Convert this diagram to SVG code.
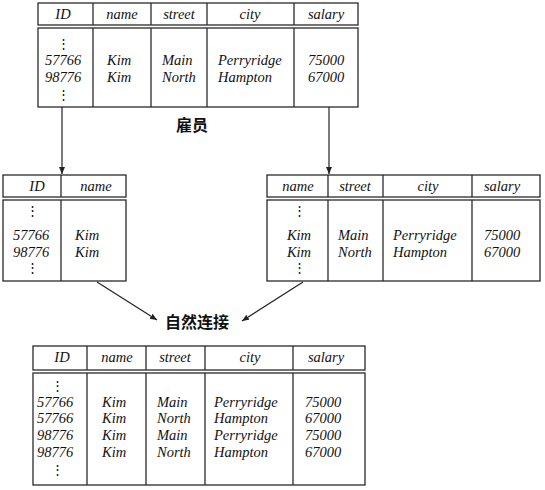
<svg xmlns="http://www.w3.org/2000/svg" width="545" height="490" viewBox="0 0 545 490">
<defs>
<marker id="ah" markerWidth="8" markerHeight="8" refX="7" refY="3" orient="auto" markerUnits="userSpaceOnUse">
<path d="M0,0 L7,3 L0,6 Z" fill="#222"/>
</marker>
<style>
.box{fill:#fff;stroke:#2a2a2a;stroke-width:1.3}
.div{stroke:#2a2a2a;stroke-width:1.3}
.t{font-family:"Liberation Serif",serif;font-style:italic;font-size:14.5px;fill:#111}
.h{font-family:"Liberation Serif",serif;font-style:italic;font-size:14.5px;fill:#111;text-anchor:middle}
.c{text-anchor:middle}
.dots{font-family:"DejaVu Serif",serif;font-size:13px;fill:#111;text-anchor:middle}
.lbl{font-family:"Noto Sans CJK SC","Noto Sans",sans-serif;font-weight:bold;font-size:16px;fill:#111;text-anchor:middle}
.con{stroke:#222;stroke-width:1.2;fill:none}
</style>
</defs>

<g id="employee">
<rect class="box" x="38" y="3" width="320" height="22"/>
<rect class="box" x="38" y="28" width="320" height="79"/>
<line class="div" x1="93" y1="3" x2="93" y2="25"/><line class="div" x1="93" y1="28" x2="93" y2="107"/>
<line class="div" x1="151" y1="3" x2="151" y2="25"/><line class="div" x1="151" y1="28" x2="151" y2="107"/>
<line class="div" x1="207" y1="3" x2="207" y2="25"/><line class="div" x1="207" y1="28" x2="207" y2="107"/>
<line class="div" x1="294" y1="3" x2="294" y2="25"/><line class="div" x1="294" y1="28" x2="294" y2="107"/>
<text class="h" x="63" y="19">ID</text>
<text class="h" x="122" y="19">name</text>
<text class="h" x="179" y="19">street</text>
<text class="h" x="250" y="19">city</text>
<text class="h" x="326" y="19">salary</text>
<text class="dots" x="63" y="48">⋮</text>
<text class="t" x="45" y="65">57766</text>
<text class="t" x="45" y="82">98776</text>
<text class="dots" x="63" y="99">⋮</text>
<text class="t" x="107" y="65">Kim</text>
<text class="t" x="107" y="82">Kim</text>
<text class="t" x="162" y="65">Main</text>
<text class="t" x="162" y="82">North</text>
<text class="t" x="218" y="65">Perryridge</text>
<text class="t" x="218" y="82">Hampton</text>
<text class="t" x="308" y="65">75000</text>
<text class="t" x="308" y="82">67000</text>
<text class="lbl" x="192" y="131">雇员</text>
</g>

<g id="proj_left">
<rect class="box" x="3" y="175" width="123" height="22"/>
<rect class="box" x="3" y="200" width="123" height="81"/>
<line class="div" x1="61" y1="175" x2="61" y2="197"/><line class="div" x1="61" y1="200" x2="61" y2="281"/>
<text class="h" x="37" y="191">ID</text>
<text class="h" x="96" y="191">name</text>
<text class="dots" x="32" y="215">⋮</text>
<text class="t" x="13" y="240">57766</text>
<text class="t" x="13" y="257">98776</text>
<text class="dots" x="32" y="272">⋮</text>
<text class="t" x="75" y="240">Kim</text>
<text class="t" x="75" y="257">Kim</text>
</g>

<g id="proj_right">
<rect class="box" x="267" y="175" width="273" height="22"/>
<rect class="box" x="267" y="200" width="273" height="81"/>
<line class="div" x1="328" y1="175" x2="328" y2="197"/><line class="div" x1="328" y1="200" x2="328" y2="281"/>
<line class="div" x1="383" y1="175" x2="383" y2="197"/><line class="div" x1="383" y1="200" x2="383" y2="281"/>
<line class="div" x1="472" y1="175" x2="472" y2="197"/><line class="div" x1="472" y1="200" x2="472" y2="281"/>
<text class="h" x="298" y="191">name</text>
<text class="h" x="355" y="191">street</text>
<text class="h" x="428" y="191">city</text>
<text class="h" x="502" y="191">salary</text>
<text class="dots" x="299" y="215">⋮</text>
<text class="t c" x="299" y="240">Kim</text>
<text class="t c" x="299" y="257">Kim</text>
<text class="dots" x="299" y="272">⋮</text>
<text class="t" x="338" y="240">Main</text>
<text class="t" x="338" y="257">North</text>
<text class="t" x="393" y="240">Perryridge</text>
<text class="t" x="393" y="257">Hampton</text>
<text class="t" x="484" y="240">75000</text>
<text class="t" x="484" y="257">67000</text>
</g>

<g id="join_label">
<text class="lbl" x="197" y="328">自然连接</text>
</g>

<g id="result">
<rect class="box" x="33" y="346" width="332" height="24"/>
<rect class="box" x="33" y="373" width="332" height="112"/>
<line class="div" x1="87" y1="346" x2="87" y2="370"/><line class="div" x1="87" y1="373" x2="87" y2="485"/>
<line class="div" x1="146" y1="346" x2="146" y2="370"/><line class="div" x1="146" y1="373" x2="146" y2="485"/>
<line class="div" x1="205" y1="346" x2="205" y2="370"/><line class="div" x1="205" y1="373" x2="205" y2="485"/>
<line class="div" x1="293" y1="346" x2="293" y2="370"/><line class="div" x1="293" y1="373" x2="293" y2="485"/>
<text class="h" x="62" y="362">ID</text>
<text class="h" x="117" y="362">name</text>
<text class="h" x="175" y="362">street</text>
<text class="h" x="250" y="362">city</text>
<text class="h" x="326" y="362">salary</text>
<text class="dots" x="57" y="390">⋮</text>
<text class="t" x="37" y="407">57766</text>
<text class="t" x="37" y="423">57766</text>
<text class="t" x="37" y="440">98776</text>
<text class="t" x="37" y="457">98776</text>
<text class="dots" x="57" y="474">⋮</text>
<text class="t" x="102" y="407">Kim</text>
<text class="t" x="102" y="423">Kim</text>
<text class="t" x="102" y="440">Kim</text>
<text class="t" x="102" y="457">Kim</text>
<text class="t" x="157" y="407">Main</text>
<text class="t" x="157" y="423">North</text>
<text class="t" x="157" y="440">Main</text>
<text class="t" x="157" y="457">North</text>
<text class="t" x="214" y="407">Perryridge</text>
<text class="t" x="214" y="423">Hampton</text>
<text class="t" x="214" y="440">Perryridge</text>
<text class="t" x="214" y="457">Hampton</text>
<text class="t" x="305" y="407">75000</text>
<text class="t" x="305" y="423">67000</text>
<text class="t" x="305" y="440">75000</text>
<text class="t" x="305" y="457">67000</text>
</g>

<g id="connectors">
<line class="con" x1="62" y1="107" x2="62" y2="174" marker-end="url(#ah)"/>
<line class="con" x1="329" y1="107" x2="329" y2="174" marker-end="url(#ah)"/>
<line class="con" x1="97" y1="282" x2="157" y2="320" marker-end="url(#ah)"/>
<line class="con" x1="303" y1="282" x2="242" y2="321" marker-end="url(#ah)"/>
</g>
</svg>
